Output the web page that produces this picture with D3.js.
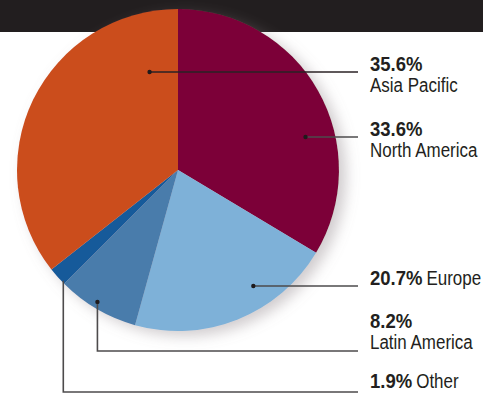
<!DOCTYPE html>
<html>
<head>
<meta charset="utf-8">
<script src="https://cdn.jsdelivr.net/npm/d3@7/dist/d3.min.js"></script>
<style>
  html, body { margin: 0; padding: 0; background: #fff; }
  svg { display: block; }
  text { font-family: "Liberation Sans", Arial, sans-serif; fill: #231f20; }
</style>
</head>
<body>
<svg id="chart" width="483" height="393"></svg>
<script>
// Regional share, clockwise from 12 o'clock
const regions = ["North America", "Europe", "Latin America", "Other", "Asia Pacific"];
const shares  = [33.6, 20.7, 8.2, 1.9, 35.6];
const shareLabels = ["33.6%", "20.7%", "8.2%", "1.9%", "35.6%"];

// Slice fills
const sliceColors = ["#7c0039", "#7eb1d8", "#4a7cab", "#145a9a", "#cb4d1c"];

// Callout layout per region: where the leader starts inside the slice
// (t = fraction across the slice angle, rf = fraction of the radius),
// the y of the horizontal run, the label baseline offset from it,
// and how the label lines stack.
const callouts = [
  { t: 0.62, rf: 0.82, lineY: 137, dy: -1, elbow: false, inline: false, below: true },
  { t: 0.35, rf: 0.86, lineY: 286, dy: -1, elbow: false, inline: true },
  { t: 0.54, rf: 0.96, lineY: 351, dy: -2, elbow: true,  inline: false, below: false },
  { t: 0.15, rf: 0.99, lineY: 392, dy: -4, elbow: true,  inline: true },
  { t: 0.875, rf: 0.64, lineY: 72, dy: -1, elbow: false, inline: false, below: true }
];

const W = 483, H = 393;
const cx = 178, cy = 170, R = 161;
const lineEndX = 358, textX = 370, lineGap = 21;
const fontSize = 19.5, regScale = 0.87, boldScale = 0.95;

const svg = d3.select("#chart");

// Dark header band
svg.append("rect").attr("x", 0).attr("y", 0).attr("width", W).attr("height", 32).attr("fill", "#221e1f");

const defs = svg.append("defs");
const f = defs.append("filter").attr("id", "shadow")
  .attr("x", "-20%").attr("y", "-20%").attr("width", "140%").attr("height", "140%");
f.append("feGaussianBlur").attr("in", "SourceAlpha").attr("stdDeviation", 7).attr("result", "b");
f.append("feOffset").attr("in", "b").attr("dx", 7).attr("dy", 5).attr("result", "o");
f.append("feFlood").attr("flood-color", "#8a7f84").attr("flood-opacity", 0.4).attr("result", "c");
f.append("feComposite").attr("in", "c").attr("in2", "o").attr("operator", "in").attr("result", "s");
const m = f.append("feMerge");
m.append("feMergeNode").attr("in", "s");
m.append("feMergeNode").attr("in", "SourceGraphic");

const pie = d3.pie().sort(null).value(d => d)(shares);
const arc = d3.arc().innerRadius(0).outerRadius(R);

const g = svg.append("g").attr("transform", `translate(${cx},${cy})`);
const pieG = g.append("g").attr("filter", "url(#shadow)");
pieG.selectAll("path").data(pie).join("path")
  .attr("d", arc)
  .attr("fill", (d, i) => sliceColors[i]);

// Condensed label text: horizontally squeezed glyphs
function label(x, y, str, bold) {
  const t = svg.append("text")
    .attr("transform", `translate(${x},${y}) scale(${bold ? boldScale : regScale},1)`)
    .attr("font-size", fontSize)
    .attr("font-weight", bold ? "bold" : "normal")
    .text(str);
  return t.node().getComputedTextLength() * (bold ? boldScale : regScale);
}

// Leader lines and anchor dots
pie.forEach((d, i) => {
  const c = callouts[i];
  const a = d.startAngle + c.t * (d.endAngle - d.startAngle);
  const x = cx + Math.sin(a) * R * c.rf;
  const y = cy - Math.cos(a) * R * c.rf;
  const pts = c.elbow
    ? [[x, y], [x, c.lineY], [lineEndX, c.lineY]]
    : [[x, c.lineY], [lineEndX, c.lineY]];
  const ay = c.elbow ? y : c.lineY;
  svg.append("path")
    .attr("d", d3.line()(pts))
    .attr("fill", "none")
    .attr("stroke", i === 4 ? "#2a2224" : "#4d4b4c")
    .attr("stroke-width", 1.6);
  if (i !== 3) {
    svg.append("circle").attr("cx", x).attr("cy", ay).attr("r", 2.2).attr("fill", "#1e1a1c");
  }

  // Labels
  const baseY = c.lineY + c.dy;
  if (c.inline) {
    const w = label(textX, baseY, shareLabels[i], true);
    label(textX + w + 4, baseY, regions[i], false);
  } else {
    const y1 = c.below ? baseY : baseY - lineGap;
    label(textX, y1, shareLabels[i], true);
    label(textX, y1 + lineGap, regions[i], false);
  }
});
</script>
</body>
</html>
